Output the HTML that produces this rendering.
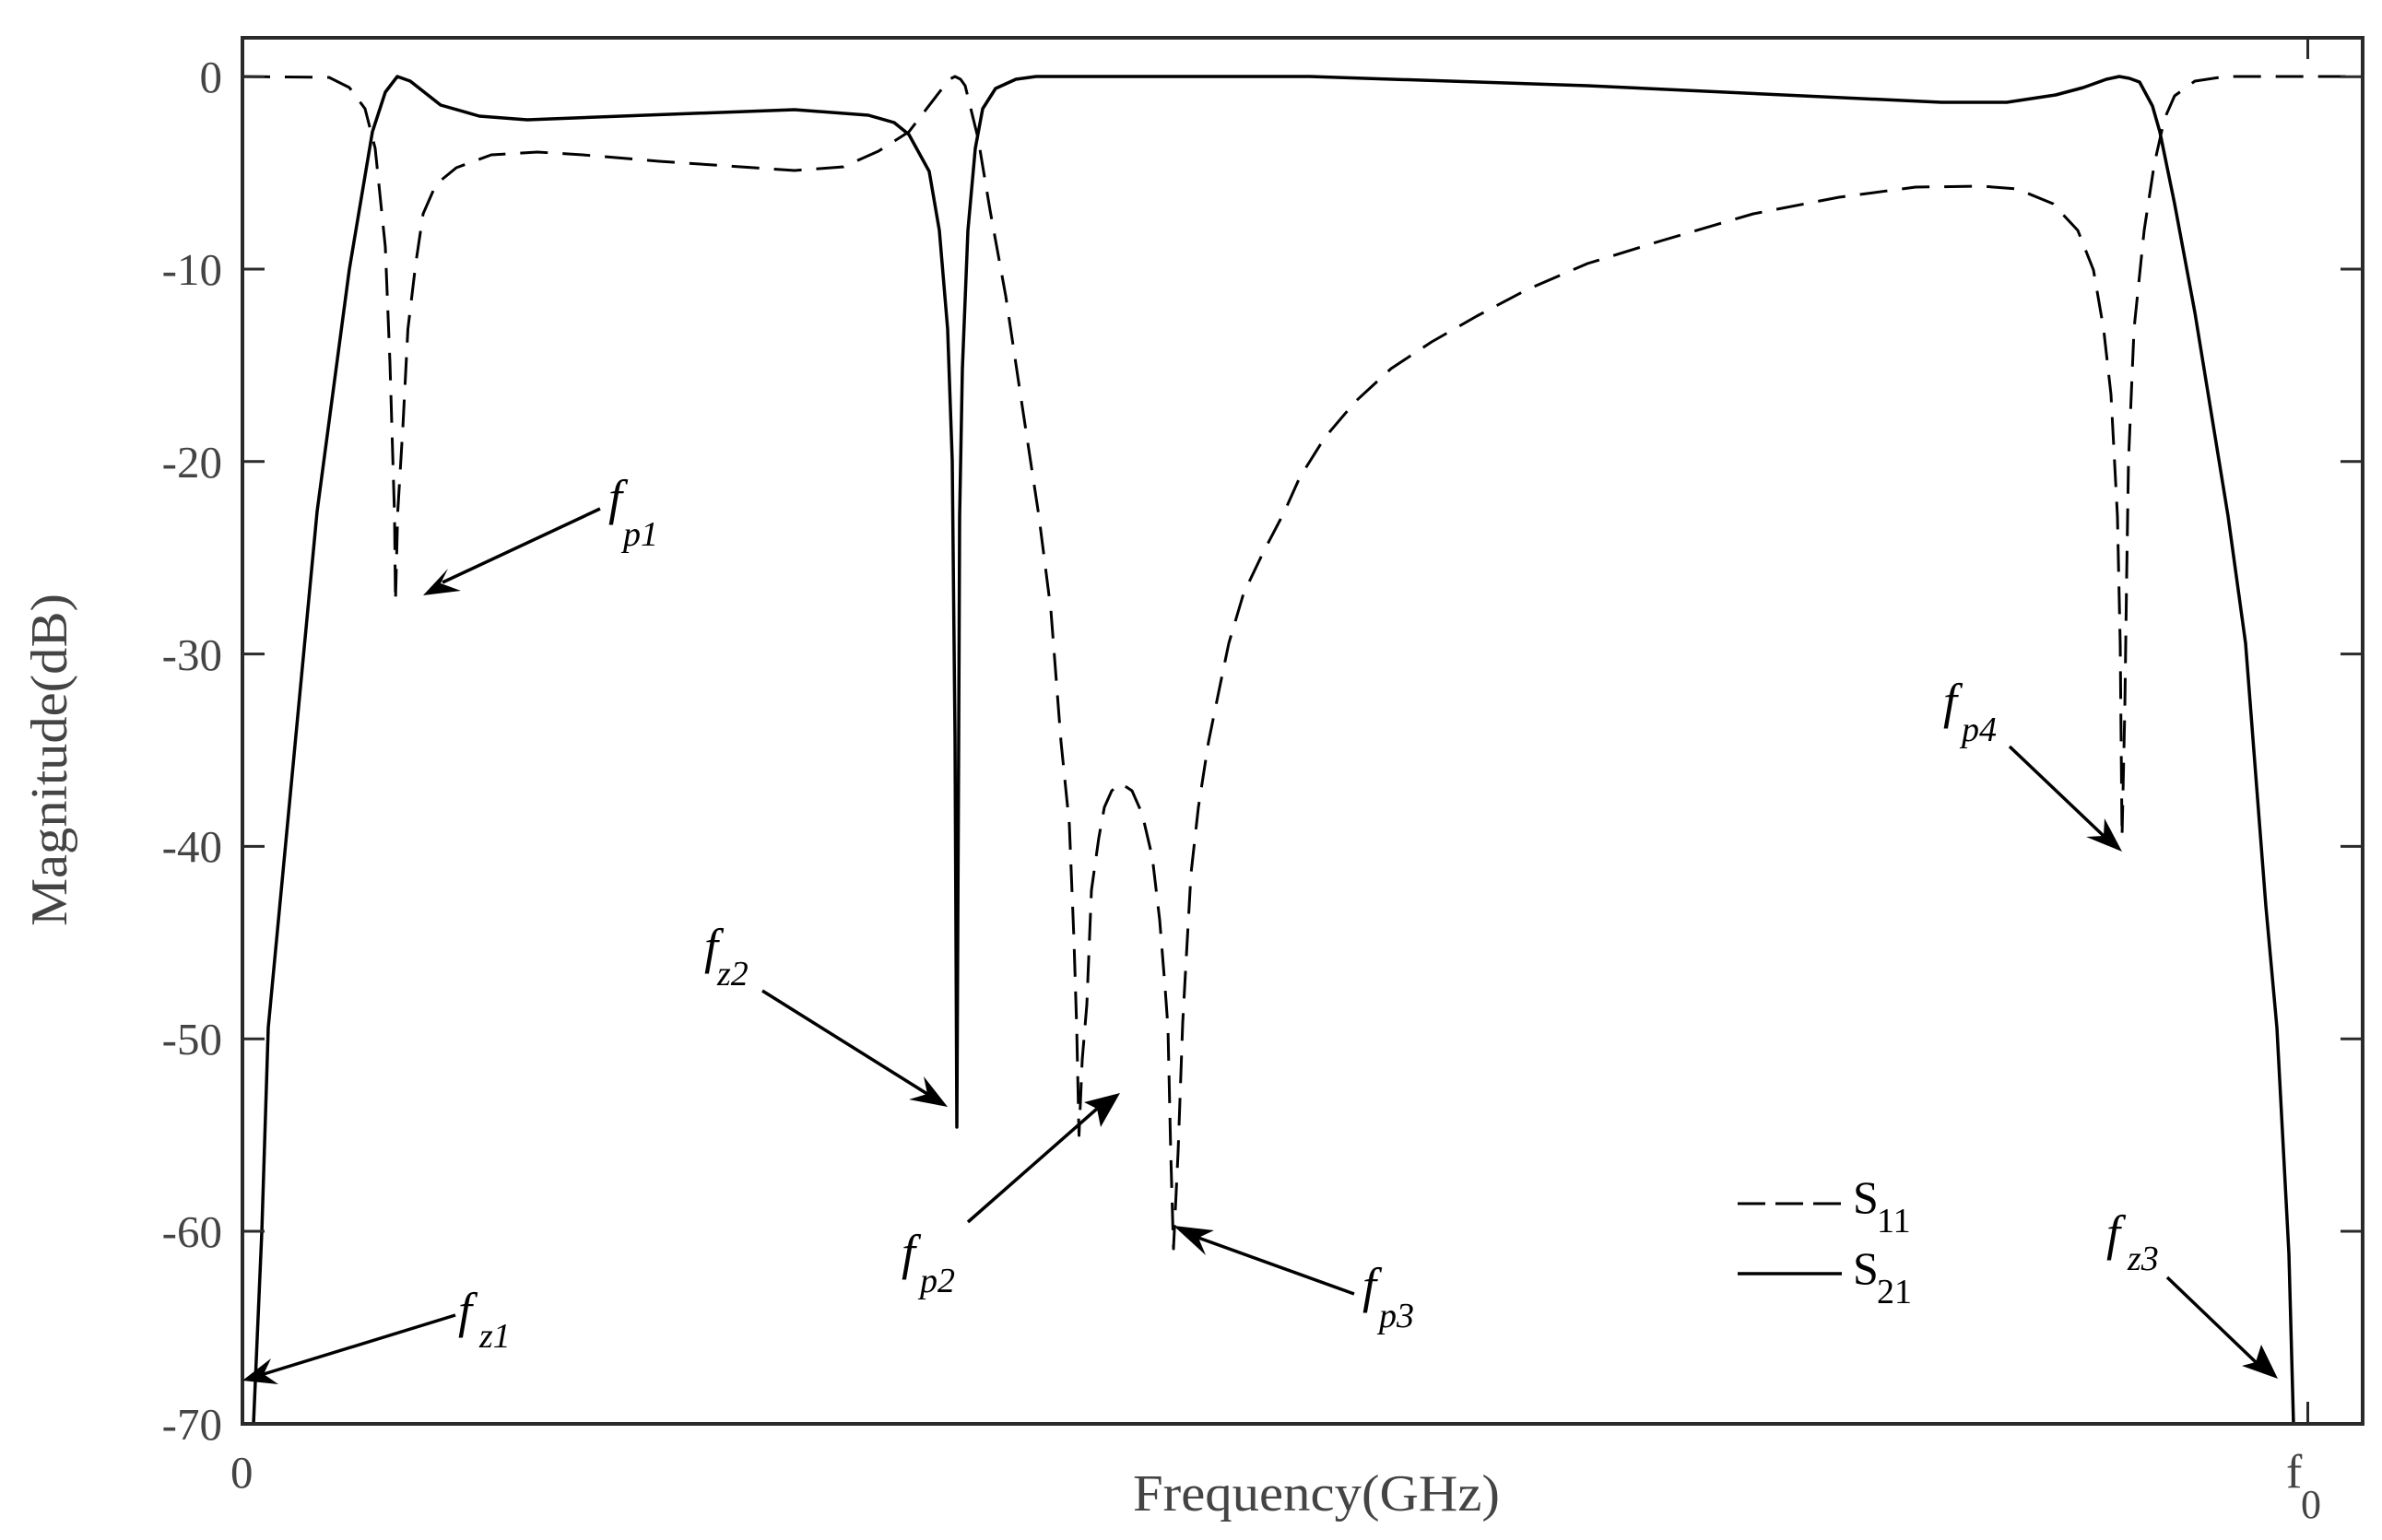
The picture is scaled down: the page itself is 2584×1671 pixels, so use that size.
<!DOCTYPE html>
<html><head><meta charset="utf-8"><style>
html,body{margin:0;padding:0;background:#fff;}
svg{display:block;}
</style></head><body>
<svg width="2584" height="1671" viewBox="0 0 2584 1671" xmlns="http://www.w3.org/2000/svg">
<defs><clipPath id="c"><rect x="263" y="41" width="2300" height="1504"/></clipPath></defs>
<rect width="2584" height="1671" fill="#fff"/>
<g clip-path="url(#c)" fill="none" stroke="#000" stroke-linejoin="round">
<polyline stroke-width="3.5" points="275,1545 284,1337 291,1115 344,555 379,292 404,143 418,100 431,83 445,88 478,114 520,126 572,130 700,125 862,119 942,125 970,133 986,146 1008,186 1019,250 1028,357 1033,500 1036,800 1038,1223 1040,800 1041,560 1044,400 1050,250 1058,161 1066,118 1080,96 1102,86 1124,83 1421,83 1722,93 2106,111 2177,111 2230,103 2260,95 2285,86 2299,83 2310,85 2321,89 2335,115 2343,143 2359,221 2381,339 2417,560 2436,698 2458,983 2470,1115 2483,1360 2488,1545"/>
<polyline stroke-width="3" stroke-dasharray="30,16" points="263,83 357,84 379,95 396,118 407,161 418,268 423,393 428,560 429,653 431.5,555 437,464 442.5,357 451,286 459,232 473,200 495,182 533,168 583,165 632,168 715,175 862,185 915,181 953,164 986,143 1019,100 1030,86 1036,83 1042,86 1047,93 1061,150 1074,228 1091,321 1107,428 1127,560 1140,662 1151,805 1160,894 1165,1019 1168,1115 1170.5,1232 1174,1150 1179,1090 1184,966 1192,909 1198,876 1206,858 1216,850 1228,858 1239,883 1250,930 1258,998 1264,1073 1267,1115 1270,1250 1273,1355 1278,1250 1283,1110 1286,1055 1292,948 1300,876 1311,805 1322,751 1333,698 1349,644 1371,598 1393,556 1410,518 1437,475 1470,436 1509,400 1553,371 1602,343 1657,314 1722,286 1803,261 1902,232 1995,214 2078,203 2150,202 2188,205 2227,221 2254,250 2271,293 2282,357 2290,428 2297,560 2300,698 2302,908 2305,769 2307,626 2309,500 2315,357 2326,250 2337,178 2348,129 2359,104 2381,88 2414,83 2563,83"/>
</g>
<!-- axes -->
<rect x="263" y="41" width="2300" height="1504" fill="none" stroke="#2a2a2a" stroke-width="4"/>
<g stroke="#2a2a2a" stroke-width="3">
<line x1="263" y1="83.2" x2="287" y2="83.2"/><line x1="2539" y1="83.2" x2="2563" y2="83.2"/>
<line x1="263" y1="292" x2="287" y2="292"/><line x1="2539" y1="292" x2="2563" y2="292"/>
<line x1="263" y1="500.8" x2="287" y2="500.8"/><line x1="2539" y1="500.8" x2="2563" y2="500.8"/>
<line x1="263" y1="709.6" x2="287" y2="709.6"/><line x1="2539" y1="709.6" x2="2563" y2="709.6"/>
<line x1="263" y1="918.4" x2="287" y2="918.4"/><line x1="2539" y1="918.4" x2="2563" y2="918.4"/>
<line x1="263" y1="1127.2" x2="287" y2="1127.2"/><line x1="2539" y1="1127.2" x2="2563" y2="1127.2"/>
<line x1="263" y1="1336" x2="287" y2="1336"/><line x1="2539" y1="1336" x2="2563" y2="1336"/>
<line x1="2503.5" y1="41" x2="2503.5" y2="64"/><line x1="2503.5" y1="1545" x2="2503.5" y2="1521"/>
</g>
<g font-family="Liberation Serif, serif" font-size="49" fill="#444" text-anchor="end">
<text x="241" y="100">0</text>
<text x="241" y="309">-10</text>
<text x="241" y="518">-20</text>
<text x="241" y="727">-30</text>
<text x="241" y="935">-40</text>
<text x="241" y="1144">-50</text>
<text x="241" y="1353">-60</text>
<text x="241" y="1562">-70</text>
</g>
<g font-family="Liberation Serif, serif" fill="#444">
<text x="250" y="1614" font-size="49">0</text>
<text x="2480" y="1614" font-size="52">f</text>
<text x="2496" y="1647" font-size="44">0</text>
<text x="1229" y="1639" font-size="56" textLength="398" lengthAdjust="spacingAndGlyphs">Frequency(GHz)</text>
<text transform="translate(72,1005) rotate(-90)" font-size="56" textLength="361" lengthAdjust="spacingAndGlyphs">Magnitude(dB)</text>
</g>
<!-- legend -->
<line x1="1885" y1="1306" x2="1998" y2="1306" stroke="#000" stroke-width="3" stroke-dasharray="30,11"/>
<line x1="1885" y1="1382" x2="1998" y2="1382" stroke="#000" stroke-width="3.5"/>
<g font-family="Liberation Serif, serif" fill="#000">
<text x="2010" y="1316" font-size="50">S</text><text x="2036" y="1337" font-size="38">11</text>
<text x="2010" y="1393" font-size="50">S</text><text x="2036" y="1414" font-size="38">21</text>
</g>
<!-- annotations -->
<g stroke="#000" stroke-width="3.5" fill="none">
<line x1="651" y1="552" x2="480" y2="632"/>
<line x1="827" y1="1075" x2="1006" y2="1187"/>
<line x1="1050" y1="1326" x2="1190" y2="1203"/>
<line x1="1469" y1="1404" x2="1300" y2="1343"/>
<line x1="2180" y1="810" x2="2282" y2="907"/>
<line x1="494" y1="1427" x2="286" y2="1491"/>
<line x1="2351" y1="1386" x2="2447" y2="1478"/>
</g>
<g fill="#000">
<polygon points="459,646 486,617 478,633 500,641"/>
<polygon points="1028,1201 1002,1168 1006,1187 986,1193"/>
<polygon points="1215,1186 1176,1196 1190,1203 1194,1223"/>
<polygon points="1273,1330 1317,1335 1300,1343 1308,1362"/>
<polygon points="2302,924 2283,888 2282,907 2263,908"/>
<polygon points="263,1498 294,1474 286,1491 302,1502"/>
<polygon points="2471,1496 2453,1459 2447,1478 2432,1482"/>
</g>
<g font-family="Liberation Serif, serif" font-style="italic" fill="#000">
<text x="660" y="558" font-size="54">f</text><text x="676" y="592" font-size="38">p1</text>
<text x="764" y="1045" font-size="54">f</text><text x="778" y="1069" font-size="38">z2</text>
<text x="978" y="1377" font-size="54">f</text><text x="998" y="1402" font-size="38">p2</text>
<text x="1478" y="1413" font-size="54">f</text><text x="1496" y="1440" font-size="38">p3</text>
<text x="2108" y="779" font-size="54">f</text><text x="2128" y="804" font-size="38">p4</text>
<text x="497" y="1440" font-size="54">f</text><text x="520" y="1462" font-size="38">z1</text>
<text x="2285" y="1356" font-size="54">f</text><text x="2308" y="1378" font-size="38">z3</text>
</g>
</svg>
</body></html>
